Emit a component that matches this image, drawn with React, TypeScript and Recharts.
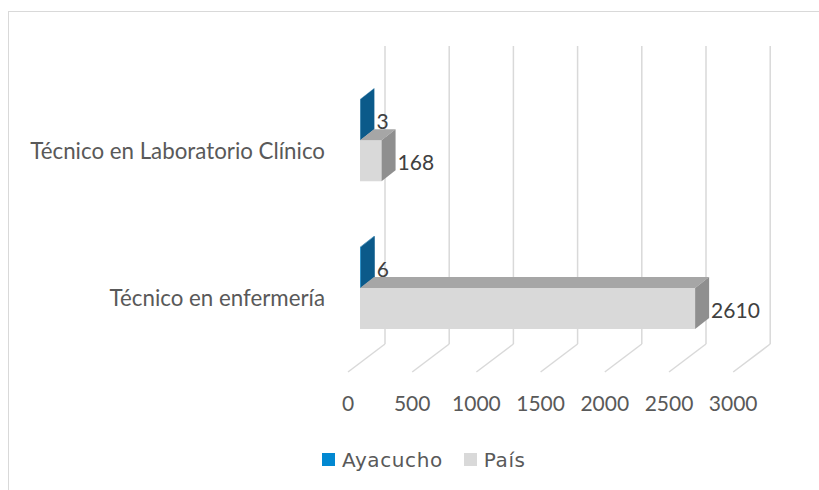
import React from 'react';
import { BarChart, Bar, XAxis, YAxis, CartesianGrid, LabelList } from 'recharts';

const categories = ['Técnico en Laboratorio Clínico', 'Técnico en enfermería'];
const ayacucho = [3, 6];
const pais = [168, 2610];
const xTicks = [0, 500, 1000, 1500, 2000, 2500, 3000];

const data = categories.map((name, i) => ({ name, ayacucho: ayacucho[i], pais: pais[i] }));

// 3D depth of the boxes and of the floor / back wall
const DX = 14;
const DY = 11;

const makeBox = (front: string, top: string, side: string) => (props: any) => {
  const { x, y, height } = props;
  const w = Math.max(props.width || 0, 0);
  return (
    <g>
      <rect x={x} y={y} width={w} height={height} fill={front} />
      <polygon points={`${x},${y} ${x + DX},${y - DY} ${x + w + DX},${y - DY} ${x + w},${y}`} fill={top} />
      <polygon
        points={`${x + w},${y} ${x + w + DX},${y - DY} ${x + w + DX},${y + height - DY} ${x + w},${y + height}`}
        fill={side}
      />
    </g>
  );
};

const gridLine = (p: any) => {
  const { x1, y1, y2, key } = p;
  const bx = x1 + 25;
  const wallTop = y1 - 20.75;
  const floorBack = y2 - 18.25;
  return (
    <g key={key}>
      <line x1={bx} y1={wallTop} x2={bx} y2={floorBack} stroke="#D9D9D9" strokeWidth={1.5} />
      <line x1={bx} y1={floorBack} x2={x1 - 12} y2={y2 + 9.75} stroke="#D9D9D9" strokeWidth={1.5} />
    </g>
  );
};

const XTick = ({ x, y, payload }: any) => (
  <text x={x - 12} y={y + 40} textAnchor="middle" dominantBaseline="central" fill="#595959" fontSize={21} fontFamily="Lato">
    {payload.value}
  </text>
);

const YTick = ({ x, y, payload }: any) => (
  <text x={x - 35} y={y + 9.5} textAnchor="end" dominantBaseline="central" fill="#595959" fontSize={22.3} fontFamily="Lato">
    {payload.value}
  </text>
);

const renderValue = (props: any) => {
  const vb = props.viewBox || {};
  const x = props.x ?? vb.x;
  const y = props.y ?? vb.y;
  const width = props.width ?? vb.width;
  const height = props.height ?? vb.height;
  return (
    <text
      x={x + width + 16}
      y={y + height / 2 + 1}
      textAnchor="start"
      dominantBaseline="central"
      fill="#404040"
      fontSize={21}
      fontFamily="Lato"
    >
      {props.value}
    </text>
  );
};

const legendItems = [
  { label: 'Ayacucho', color: '#0288D1' },
  { label: 'País', color: '#D9D9D9' },
];

const App: React.FC = () => {
  return (
    <div style={{ position: 'absolute', left: 0, top: 0, width: 819, height: 490, overflow: 'hidden', background: '#fff' }}>
      <div
        style={{
          position: 'absolute',
          left: 8,
          top: 11,
          width: 900,
          height: 600,
          borderLeft: '1px solid #D9D9D9',
          borderTop: '1px solid #D9D9D9',
        }}
      />
      <div style={{ position: 'absolute', left: 0, top: 0 }}>
        <BarChart
          width={819}
          height={490}
          data={data}
          layout="vertical"
          margin={{ top: 66.75, right: 73.8, bottom: 97.75, left: 0 }}
          barCategoryGap="22%"
          barGap={0}
        >
          <CartesianGrid horizontal={false} vertical={gridLine} />
          <XAxis
            type="number"
            domain={[0, 3000]}
            ticks={xTicks}
            interval={0}
            axisLine={false}
            tickLine={false}
            tickSize={0}
            tickMargin={0}
            height={30}
            tick={<XTick />}
          />
          <YAxis
            type="category"
            dataKey="name"
            width={360}
            interval={0}
            axisLine={false}
            tickLine={false}
            tickSize={0}
            tickMargin={0}
            tick={<YTick />}
          />
          <Bar dataKey="ayacucho" name="Ayacucho" fill="#0288D1" shape={makeBox('#0288D1', '#0A6EA8', '#0B5A8A')} isAnimationActive={false}>
            <LabelList dataKey="ayacucho" content={renderValue} />
          </Bar>
          <Bar dataKey="pais" name="País" fill="#D9D9D9" shape={makeBox('#D9D9D9', '#A6A6A6', '#8F8F8F')} isAnimationActive={false}>
            <LabelList dataKey="pais" content={renderValue} />
          </Bar>
        </BarChart>
      </div>
      <div
        style={{
          position: 'absolute',
          left: 322,
          top: 447,
          height: 25,
          display: 'flex',
          alignItems: 'center',
          fontFamily: 'DejaVu Sans',
          fontSize: 20,
          letterSpacing: '0.6px',
          color: '#595959',
        }}
      >
        {legendItems.map((item, i) => (
          <div key={item.label} style={{ display: 'flex', alignItems: 'center', marginRight: i === 0 ? 21 : 0 }}>
            <span style={{ width: 13, height: 13, background: item.color, marginRight: 7, display: 'inline-block' }} />
            <span>{item.label}</span>
          </div>
        ))}
      </div>
    </div>
  );
};

export default App;
